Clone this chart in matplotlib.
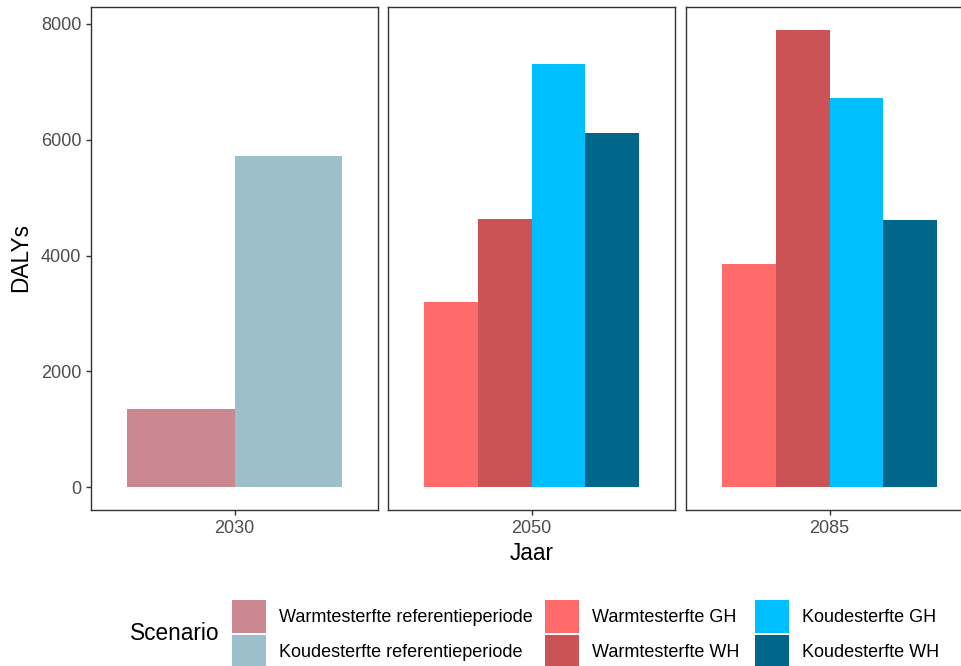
import matplotlib
matplotlib.use("Agg")
import matplotlib.pyplot as plt
from matplotlib.patches import Patch

plt.rcParams['font.family'] = ['Liberation Sans', 'DejaVu Sans']

# data
jaren = ['2030', '2050', '2085']
scenarios = ['Warmtesterfte referentieperiode', 'Koudesterfte referentieperiode',
             'Warmtesterfte GH', 'Warmtesterfte WH',
             'Koudesterfte GH', 'Koudesterfte WH']
kleuren = ['#CC8890', '#9DBFCC', '#FF6B6B', '#CB5356', '#00BFFF', '#00668A']

scen_2030 = [0, 1]
dalys_2030 = [1355, 5712]
scen_2050 = [2, 3, 4, 5]
dalys_2050 = [3200, 4628, 7312, 6108]
scen_2085 = [2, 3, 4, 5]
dalys_2085 = [3854, 7897, 6727, 4611]

panels = [(scen_2030, dalys_2030), (scen_2050, dalys_2050), (scen_2085, dalys_2085)]

W, H = 961, 666
fig = plt.figure(figsize=(W / 100, H / 100), dpi=100)

lefts = [91, 388, 686]
breedte = 287
top, bottom = 7, 510

asgrijs = '#333333'
tekstgrijs = '#4D4D4D'

axes = []
for i, (scen, vals) in enumerate(panels):
    ax = fig.add_axes([lefts[i] / W, 1 - bottom / H, breedte / W, (bottom - top) / H])
    n = len(vals)
    bw = 0.9 / n
    xs = [-0.45 + bw * (k + 0.5) for k in range(n)]
    ax.bar(xs, vals, width=bw, color=[kleuren[s] for s in scen], linewidth=0)
    ax.set_xlim(-0.6, 0.6)
    ax.set_ylim(-395, 8292)
    ax.set_xticks([0])
    ax.set_xticklabels([jaren[i]])
    for sp in ax.spines.values():
        sp.set_color(asgrijs)
        sp.set_linewidth(1.0)
    ax.tick_params(axis='both', colors=asgrijs, labelcolor=tekstgrijs,
                   labelsize=13, length=3.5, width=1.0, pad=3.5)
    if i == 0:
        ax.set_yticks([0, 2000, 4000, 6000, 8000])
    else:
        ax.set_yticks([])
    axes.append(ax)

fig.text(532 / W, 1 - 553 / H, 'Jaar', ha='center', va='center', fontsize=16.3, color='black')
fig.text(21 / W, 1 - 258 / H, 'DALYs', ha='center', va='center', rotation=90,
         fontsize=16.3, color='black')

# legend: title on the left, three columns of two keys
fig.text(130 / W, 1 - 634 / H, 'Scenario', ha='left', va='center', fontsize=16.3)
kol_x = [232, 545, 755]
for c in range(3):
    idx = [2 * c, 2 * c + 1]
    handles = [Patch(facecolor=kleuren[j], edgecolor='none') for j in idx]
    fig.legend(handles, [scenarios[j] for j in idx], loc='upper left',
               bbox_to_anchor=(kol_x[c] / W, 1 - 600 / H), frameon=False,
               borderpad=0, borderaxespad=0, fontsize=13,
               handlelength=1.9, handleheight=2.44, labelspacing=0.1,
               handletextpad=0.7)

fig.savefig('out.png', dpi=100)
